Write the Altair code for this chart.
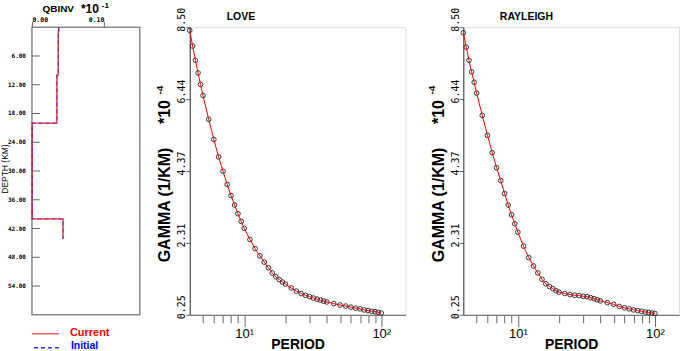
import altair as alt
import pandas as pd

# ---------------- QBINV model (depth in km) ----------------
layer_top = [0.0, 0.8, 10.0, 20.0, 40.0]
layer_bot = [0.8, 10.0, 20.0, 40.0, 44.2]
q_current = [0.0372, 0.0365, 0.0347, 0.0003, 0.0432]
q_initial = [0.0372, 0.0365, 0.0347, 0.0003, 0.0432]
depth_ticks = [6, 12, 18, 24, 30, 36, 42, 48, 54]
q_ticks = [0.0, 0.10]

# ---------------- Attenuation dispersion ----------------
periods = [4.0, 4.2, 4.4, 4.6, 4.8, 5.0, 5.5, 6.0, 6.5, 7.0, 7.5, 8.0, 8.5, 9.0, 9.5,
           10, 11, 12, 13, 14, 15, 16, 17, 18, 19, 20, 22, 24, 26, 28, 30, 32, 34,
           36, 38, 40, 45, 50, 55, 60, 65, 70, 75, 80, 85, 90, 95, 100]
love_gamma = [8.41, 7.96, 7.55, 7.19, 6.86, 6.54, 5.86, 5.28, 4.78, 4.37, 3.99, 3.67,
              3.40, 3.15, 2.93, 2.73, 2.41, 2.15, 1.94, 1.76, 1.60, 1.45, 1.34, 1.26,
              1.19, 1.13, 1.02, 0.93, 0.86, 0.81, 0.77, 0.73, 0.70, 0.67, 0.64, 0.62,
              0.57, 0.53, 0.50, 0.47, 0.44, 0.42, 0.39, 0.37, 0.35, 0.34, 0.32, 0.30]
rayl_gamma = [8.34, 7.93, 7.55, 7.22, 6.92, 6.61, 5.97, 5.40, 4.90, 4.47, 4.10, 3.73,
              3.40, 3.12, 2.86, 2.62, 2.22, 1.89, 1.65, 1.45, 1.27, 1.14, 1.06, 1.00,
              0.94, 0.90, 0.86, 0.83, 0.81, 0.80, 0.78, 0.77, 0.74, 0.71, 0.68, 0.65,
              0.60, 0.55, 0.49, 0.45, 0.42, 0.39, 0.37, 0.35, 0.33, 0.32, 0.30, 0.29]
gamma_ticks = [0.25, 2.3125, 4.3749, 6.4376, 8.5]
period_ticks = [5, 6, 7, 8, 9, 10, 20, 30, 40, 50, 60, 70, 80, 90, 100]

FONT = "Liberation Sans"
MONO = "DejaVu Sans Mono"
AX = "#666666"

# ---------- build tables ----------
def step_table(tops, bots, vals):
    rows = []
    for i, (t, b, v) in enumerate(zip(tops, bots, vals)):
        rows.append({"depth": t, "q": v, "o": 2 * i})
        rows.append({"depth": b, "q": v, "o": 2 * i + 1})
    return pd.DataFrame(rows)

cur_df = step_table(layer_top, layer_bot, q_current)
ini_df = step_table(layer_top, layer_bot, q_initial)
dtick_df = pd.DataFrame({"depth": depth_ticks,
                         "label": [f"{d:.2f}" for d in depth_ticks]})
one = pd.DataFrame({"a": [0]})


def txt(text, x, y, size, color="black", weight="normal", angle=0, align="left",
        baseline="middle", font=FONT):
    return alt.Chart(one).mark_text(text=text, fontSize=size, color=color,
                                    fontWeight=weight, angle=angle, align=align,
                                    baseline=baseline, font=font).encode(
        x=alt.value(x), y=alt.value(y))


# ---------------- panel 1 : QBINV ----------------
qx = alt.X("q:Q", scale=alt.Scale(domain=[0, 0.15], nice=False, zero=False),
           axis=alt.Axis(orient="top", values=q_ticks, format=".2f", tickSize=6,
                         tickColor=AX, domain=False, grid=False, title=None,
                         labelFont=MONO, labelFontSize=6.5, labelFontWeight="bold",
                         labelAlign={"condition": {"test": "datum.value == 0", "value": "left"},
                                     "value": "right"},
                         labelPadding=-1, labelColor="black", labelOverlap=False))
qy = alt.Y("depth:Q", scale=alt.Scale(domain=[0, 60], nice=False, reverse=True, zero=False),
           axis=None)

cur_line = alt.Chart(cur_df).mark_line(color="#ff2020", strokeWidth=1.3).encode(
    x=qx, y=qy, order="o:Q")
ini_line = alt.Chart(ini_df).mark_line(color="#2020ff", strokeWidth=1.3, strokeDash=[4, 3],
                                       opacity=0.6).encode(
    x="q:Q", y="depth:Q", order="o:Q")
dticks = alt.Chart(dtick_df).mark_rule(color=AX, strokeWidth=1).encode(
    y="depth:Q", x=alt.value(0), x2=alt.value(8))
dlabels = alt.Chart(dtick_df).mark_text(font=MONO, fontSize=6, fontWeight="bold",
                                        align="right", baseline="middle",
                                        color="black").encode(
    y="depth:Q", x=alt.value(-6), text="label:N")
anchor = alt.Chart(one).mark_rule(opacity=0, strokeWidth=1).encode(
    x=alt.value(-30.5), x2=alt.value(0), y=alt.value(-25.5))

leg_cur = alt.Chart(one).mark_rule(color="#ff4040", strokeWidth=1.3).encode(
    x=alt.value(0), x2=alt.value(27), y=alt.value(307))
leg_ini = alt.Chart(one).mark_rule(color="#3030ff", strokeWidth=1.3, strokeDash=[4, 3]).encode(
    x=alt.value(2), x2=alt.value(27), y=alt.value(321))

p1 = alt.layer(
    cur_line, ini_line, dticks, dlabels, anchor, leg_cur, leg_ini,
    txt("QBINV", 10.5, -18.5, 10, weight="bold"),
    txt("*10", 49, -18, 12, weight="bold"),
    txt("-1", 70, -21.5, 8, weight="bold"),
    txt("DEPTH (KM)", -26.5, 142, 8.5, angle=270, align="center"),
    txt("Current", 38, 306, 11, color="#ff0000", weight="bold"),
    txt("Initial", 39, 319.5, 10.5, color="#0000ff", weight="bold"),
).properties(width=108, height=288,
             view=alt.ViewBackground(stroke="#888888", strokeWidth=1.5))


# ---------------- panels 2,3 : dispersion ----------------
def disp_panel(gam, title, ttl_x, ytitle_x, star_x, sup_x):
    df = pd.DataFrame({"period": periods, "gamma": gam})
    x = alt.X("period:Q",
              scale=alt.Scale(type="log", domain=[4, 150], nice=False),
              axis=alt.Axis(values=period_ticks,
                            labelExpr="datum.value == 10 ? '10¹' : datum.value == 100 ? '10²' : ''",
                            tickSize={"condition": {"test": "datum.value == 10 || datum.value == 100",
                                                    "value": 12}, "value": 8},
                            tickColor=AX, domainColor="#777777", domainWidth=1.3,
                            labelFont=FONT, labelFontSize=13, labelColor="black",
                            labelBaseline="top", labelPadding=1, labelOverlap=False,
                            labelFlush=False, grid=False,
                            title="PERIOD", titleFont=FONT, titleFontSize=14,
                            titleFontWeight="bold", titleColor="black",
                            titleY=34, titleBaseline="alphabetic"))
    y = alt.Y("gamma:Q",
              scale=alt.Scale(domain=[0.25, 8.5], nice=False, zero=False),
              axis=alt.Axis(values=gamma_ticks, format=".2f", labelAngle=270,
                            labelAlign="left", labelBaseline="alphabetic", labelOffset=4,
                            tickSize=4, tickColor=AX, domainColor="#333333",
                            labelFont=MONO, labelFontSize=10, labelColor="black",
                            labelPadding=1, grid=False, title=None, labelOverlap=False))
    pts = alt.Chart(df).mark_point(shape="circle", filled=False, size=22, color="#222222",
                                   strokeWidth=1, opacity=0.9).encode(x=x, y=y)
    line = alt.Chart(df).mark_line(color="#ff0000", strokeWidth=1).encode(
        x="period:Q", y="gamma:Q")
    return alt.layer(
        pts, line,
        txt(title, ttl_x, -10.5, 10.5, weight="bold"),
        txt("GAMMA (1/KM)", ytitle_x, 178, 16, weight="bold", angle=270, align="center"),
        txt("*10", star_x, 85, 16, weight="bold", angle=270, align="center"),
        txt("-4", sup_x, 63, 10, weight="bold", angle=270, align="center"),
    ).properties(width=216, height=288)


p2 = disp_panel(love_gamma, "LOVE", 37, -25, -25, -29.7)
p3 = disp_panel(rayl_gamma, "RAYLEIGH", 36.6, -24, -24.5, -31)

chart = alt.hconcat(
    p1,
    alt.hconcat(p2, p3, spacing=58, bounds="flush"),
    spacing=50, bounds="flush",
).properties(padding=0, background="white").configure_view(stroke="transparent").configure(
    font=FONT)

chart.save("out.html", embed_options={"renderer": "svg", "actions": False})
